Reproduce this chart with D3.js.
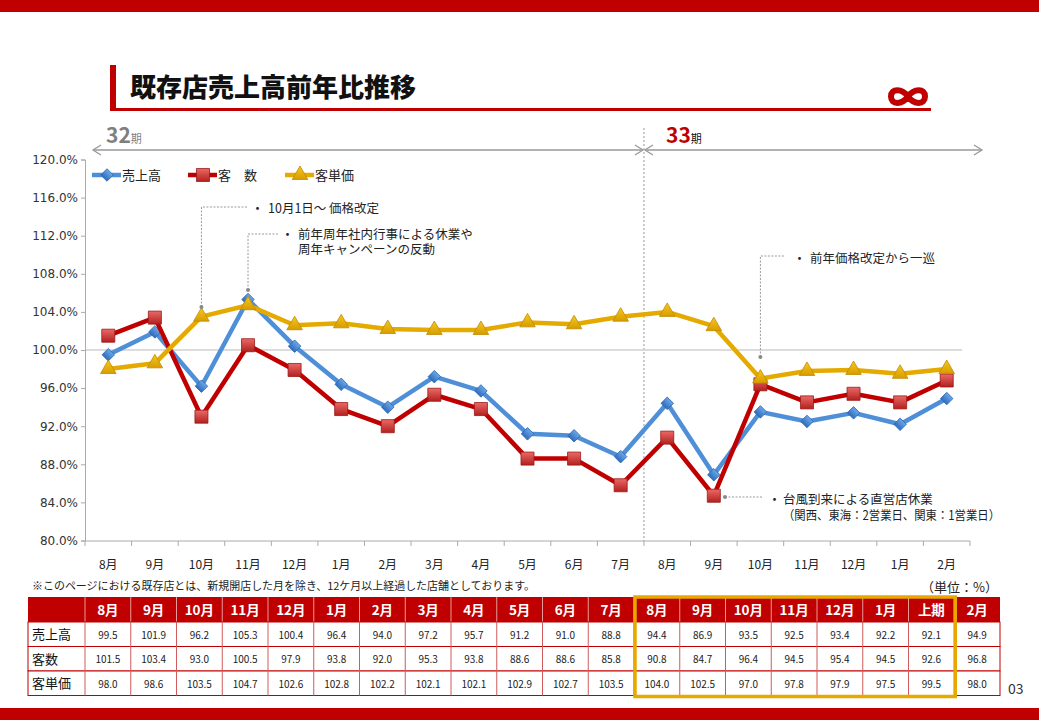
<!DOCTYPE html>
<html>
<head>
<meta charset="utf-8">
<script src="https://cdn.jsdelivr.net/npm/d3@7"></script>
<style>
  body { margin: 0; background: #fff; }
  text { font-family: "Noto Sans CJK JP", "DejaVu Sans", sans-serif; }
  .num { font-family: "DejaVu Sans", sans-serif; }
</style>
</head>
<body>
<div id="chart"></div>
<script>
// chart data
const months = ["8月","9月","10月","11月","12月","1月","2月","3月","4月","5月","6月","7月",
                "8月","9月","10月","11月","12月","1月","2月"];
const sales     = [99.5,101.9,96.2,105.3,100.4,96.4,94.0,97.2,95.7,91.2,91.0,88.8, 94.4,86.9,93.5,92.5,93.4,92.2,94.9];
const customers = [101.5,103.4,93.0,100.5,97.9,93.8,92.0,95.3,93.8,88.6,88.6,85.8, 90.8,84.7,96.4,94.5,95.4,94.5,96.8];
const unitPrice = [98.0,98.6,103.5,104.7,102.6,102.8,102.2,102.1,102.1,102.9,102.7,103.5, 104.0,102.5,97.0,97.8,97.9,97.5,98.0];
const yTicks = [80,84,88,92,96,100,104,108,112,116,120];
const seriesNames = ["売上高","客　数","客単価"];
const rowNames = ["売上高","客数","客単価"];
const halfLabel = "上期";
const halfValues = [92.1, 92.6, 99.5];

const W = 1039, H = 720;
const red = "#c00000";

const svg = d3.select("#chart").append("svg")
  .attr("width", W).attr("height", H);

// gradients for markers
const defs = svg.append("defs");
function grad(id, c1, c2) {
  const g = defs.append("linearGradient").attr("id", id)
    .attr("x1", 0).attr("y1", 0).attr("x2", 0).attr("y2", 1);
  g.append("stop").attr("offset", "0%").attr("stop-color", c1);
  g.append("stop").attr("offset", "100%").attr("stop-color", c2);
}
grad("gBlue", "#6aa8ea", "#2f6cbc");
grad("gRed", "#ea6a66", "#b3201e");
grad("gGold", "#f7c820", "#d79c00");

// top / bottom bands
svg.append("rect").attr("x", 0).attr("y", 0).attr("width", W).attr("height", 12).attr("fill", red);
svg.append("rect").attr("x", 0).attr("y", 708).attr("width", W).attr("height", 12).attr("fill", red);

// title block
svg.append("rect").attr("x", 110).attr("y", 65).attr("width", 6).attr("height", 46).attr("fill", red);
svg.append("rect").attr("x", 110).attr("y", 108).attr("width", 821).attr("height", 3).attr("fill", red);
svg.append("text").attr("x", 130).attr("y", 97)
  .attr("font-size", 26).attr("font-weight", 900).attr("fill", "#111")
  .text("既存店売上高前年比推移");
// logo
svg.append("path")
  .attr("d", "M908,96.5 C902,88 891,88 891,96.5 C891,105 902,105 908,96.5 C914,88 925,88 925,96.5 C925,105 914,105 908,96.5 Z")
  .attr("fill", "none").attr("stroke", red).attr("stroke-width", 6);

// scales
const x = d3.scaleBand().domain(d3.range(months.length)).range([85, 970]);
const y = d3.scaleLinear().domain([80, 120]).range([540.5, 159.5]);
const cx = i => x(i) + x.bandwidth() / 2;

// period arrows
const divX = x(12);
const arrowY = 150;
const ag = svg.append("g").attr("stroke", "#999").attr("stroke-width", 1.3).attr("fill", "none");
function arrow(x1, x2) {
  ag.append("line").attr("x1", x1).attr("x2", x2).attr("y1", arrowY).attr("y2", arrowY);
  ag.append("path").attr("d", `M${x1 + 8},${arrowY - 5} L${x1},${arrowY} L${x1 + 8},${arrowY + 5}`);
  ag.append("path").attr("d", `M${x2 - 8},${arrowY - 5} L${x2},${arrowY} L${x2 - 8},${arrowY + 5}`);
}
arrow(93, divX - 1);
arrow(divX + 1, 982);

const p32 = svg.append("text").attr("x", 106).attr("y", 143).attr("fill", "#7f7f7f");
p32.append("tspan").attr("font-size", 21).attr("font-weight", 700).text("32");
p32.append("tspan").attr("font-size", 11).text("期");
const p33 = svg.append("text").attr("x", 666).attr("y", 143).attr("fill", red);
p33.append("tspan").attr("font-size", 21).attr("font-weight", 700).text("33");
p33.append("tspan").attr("font-size", 11).attr("fill", "#111").text("期");

// period divider
svg.append("line").attr("x1", divX).attr("x2", divX).attr("y1", 128).attr("y2", 541)
  .attr("stroke", "#999").attr("stroke-dasharray", "2,2");

// 100% grid line
svg.append("line").attr("x1", 85).attr("x2", 962).attr("y1", y(100)).attr("y2", y(100))
  .attr("stroke", "#d0d0d0").attr("stroke-width", 1.5);

// y axis
const yAxis = svg.append("g").attr("transform", "translate(85,0)")
  .call(d3.axisLeft(y).tickValues(yTicks).tickSize(4).tickFormat(d => d.toFixed(1) + "%"));
yAxis.selectAll("path, line").attr("stroke", "#aaa");
yAxis.selectAll("text").attr("class", "num").attr("font-size", 12).attr("fill", "#333")
  .attr("font-family", "DejaVu Sans");

// x axis line + boundary ticks
svg.append("line").attr("x1", 85).attr("x2", 970).attr("y1", 541).attr("y2", 541).attr("stroke", "#aaa");
svg.append("g").selectAll("line").data(d3.range(months.length + 1)).join("line")
  .attr("x1", i => i < months.length ? x(i) : x.range()[1])
  .attr("x2", i => i < months.length ? x(i) : x.range()[1])
  .attr("y1", 541).attr("y2", 546).attr("stroke", "#aaa");
svg.append("g").selectAll("text").data(months).join("text")
  .attr("x", (d, i) => cx(i)).attr("y", 569)
  .attr("text-anchor", "middle").attr("font-size", 12).attr("fill", "#222")
  .text(d => d);

// markers
const diamond = d3.symbol().type(d3.symbolSquare).size(78);
const square = d3.symbol().type(d3.symbolSquare).size(170);
const triangle = d3.symbol().type(d3.symbolTriangle).size(105);

const series = [
  { name: seriesNames[0], values: sales, color: "#4f8fd8", fill: "url(#gBlue)", stroke: "#2d67b0",
    sym: diamond, rot: 45 },
  { name: seriesNames[1], values: customers, color: red, fill: "url(#gRed)", stroke: "#9a1a1a",
    sym: square, rot: 0 },
  { name: seriesNames[2], values: unitPrice, color: "#e5aa00", fill: "url(#gGold)", stroke: "#c08a00",
    sym: triangle, rot: 0 }
];

const line = d3.line().x((d, i) => cx(i)).y(d => y(d));
series.forEach(s => {
  const g = svg.append("g");
  g.append("path").datum(s.values).attr("d", line)
    .attr("fill", "none").attr("stroke", s.color).attr("stroke-width", 4.5)
    .attr("stroke-linejoin", "round");
  g.selectAll("path.m").data(s.values).join("path").attr("class", "m")
    .attr("d", s.sym)
    .attr("transform", (d, i) => `translate(${cx(i)},${y(d)}) rotate(${s.rot})`)
    .attr("fill", s.fill).attr("stroke", s.stroke).attr("stroke-width", 0.8);
});

// legend
const legendX = [92, 188, 285];
series.forEach((s, k) => {
  const lx = legendX[k], ly = 175;
  svg.append("line").attr("x1", lx).attr("x2", lx + 29).attr("y1", ly).attr("y2", ly)
    .attr("stroke", s.color).attr("stroke-width", 4.5);
  svg.append("path").attr("d", s.sym)
    .attr("transform", `translate(${lx + 15},${ly}) rotate(${s.rot})`)
    .attr("fill", s.fill).attr("stroke", s.stroke).attr("stroke-width", 0.8);
  svg.append("text").attr("x", lx + 30).attr("y", ly + 4.5)
    .attr("font-size", 13).attr("fill", "#222").text(s.name);
});

// annotations
const lg = svg.append("g").attr("stroke", "#999").attr("fill", "none").attr("stroke-dasharray", "2,1.5");
function leader(pts) {
  lg.append("path").attr("d", "M" + pts.map(p => p.join(",")).join(" L"));
  svg.append("circle").attr("cx", pts[0][0]).attr("cy", pts[0][1]).attr("r", 2).attr("fill", "#888");
}
function note(bx, tx, ys, lines, lens) {
  svg.append("text").attr("x", bx).attr("y", ys[0]).attr("font-size", 13).attr("fill", "#222").text("・");
  lines.forEach((t, i) => {
    const el = svg.append("text").attr("x", tx).attr("y", ys[i]).attr("font-size", 12.5).attr("fill", "#222").text(t);
    if (lens && lens[i]) el.attr("textLength", lens[i]).attr("lengthAdjust", "spacingAndGlyphs");
  });
}
leader([[cx(2), 307], [cx(2), 207], [248, 207]]);
note(251, 268, [213], ["10月1日～ 価格改定"]);
leader([[cx(3), 290], [cx(3), 234], [278, 234]]);
note(281, 298, [238.5, 254], ["前年周年社内行事による休業や", "周年キャンペーンの反動"]);
leader([[cx(14), 357], [cx(14), 256], [785, 256]]);
note(793, 810, [262.5], ["前年価格改定から一巡"]);
leader([[725, 497], [763, 497]]);
note(768, 783, [503.5, 520], ["台風到来による直営店休業", "（関西、東海：2営業日、関東：1営業日）"], [0, 217]);

// footnote and unit
svg.append("text").attr("x", 32).attr("y", 590).attr("font-size", 11).attr("fill", "#222")
  .attr("textLength", 503).attr("lengthAdjust", "spacingAndGlyphs")
  .text("※このページにおける既存店とは、新規開店した月を除き、12ケ月以上経過した店舗としております。");
svg.append("text").attr("x", 998).attr("y", 592).attr("text-anchor", "end")
  .attr("font-size", 13).attr("fill", "#222").text("（単位：%）");

// table
const colLabels = months.slice(0, 18).concat([halfLabel, months[18]]);
const rows = [sales, customers, unitPrice].map((vals, r) =>
  vals.slice(0, 18).concat([halfValues[r], vals[18]]));
const tx = d3.scaleBand().domain(d3.range(colLabels.length)).range([85, 1000]);
const tTop = 597, hH = 25, rH = 24.5;
const tg = svg.append("g");
tg.append("rect").attr("x", 28).attr("y", tTop).attr("width", 1000 - 28).attr("height", hH).attr("fill", red);
tg.selectAll("text.h").data(colLabels).join("text").attr("class", "h")
  .attr("x", (d, i) => tx(i) + tx.bandwidth() / 2).attr("y", tTop + 18)
  .attr("text-anchor", "middle").attr("font-size", 13.5).attr("font-weight", 700).attr("fill", "#fff")
  .text(d => d);
// header separators
tg.selectAll("line.hs").data(d3.range(colLabels.length)).join("line").attr("class", "hs")
  .attr("x1", i => tx(i)).attr("x2", i => tx(i)).attr("y1", tTop).attr("y2", tTop + hH)
  .attr("stroke", "#e79a9a").attr("stroke-width", 1);
rows.forEach((vals, r) => {
  const ry = tTop + hH + r * rH;
  tg.append("rect").attr("x", 28).attr("y", ry).attr("width", 1000 - 28).attr("height", rH)
    .attr("fill", "#fff").attr("stroke", red).attr("stroke-width", 1);
  tg.append("text").attr("x", 32).attr("y", ry + 17).attr("font-size", 13).attr("fill", "#111")
    .text(rowNames[r]);
  tg.selectAll(null).data(vals).join("text")
    .attr("x", (d, i) => tx(i) + tx.bandwidth() / 2).attr("y", ry + 16.5)
    .attr("text-anchor", "middle").attr("font-size", 10).attr("fill", "#222")
    .attr("font-family", "DejaVu Sans")
    .text(d => d.toFixed(1));
});
tg.selectAll("line.bs").data(d3.range(colLabels.length)).join("line").attr("class", "bs")
  .attr("x1", i => tx(i)).attr("x2", i => tx(i)).attr("y1", tTop + hH).attr("y2", tTop + hH + 3 * rH)
  .attr("stroke", "#d05a5a").attr("stroke-width", 1);

// 33期 highlight box
svg.append("rect").attr("x", tx(12) + 1).attr("y", tTop)
  .attr("width", tx(19) - tx(12)).attr("height", hH + 3 * rH + 1)
  .attr("fill", "none").attr("stroke", "#e8a800").attr("stroke-width", 3.5);

// page number
svg.append("text").attr("x", 1008).attr("y", 694).attr("font-size", 14).attr("fill", "#333")
  .attr("font-family", "Liberation Sans").text("03");
</script>
</body>
</html>
